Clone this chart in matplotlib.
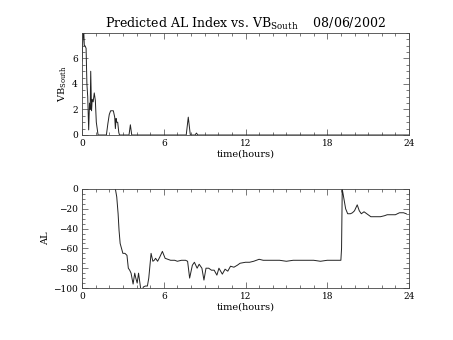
import matplotlib
matplotlib.use("Agg")
import matplotlib.pyplot as plt
from matplotlib.ticker import MultipleLocator

# VB south (top panel)
vb_t = [0.0, 0.05, 0.12, 0.17, 0.22, 0.3, 0.36, 0.42, 0.49, 0.55, 0.6, 0.64, 0.7, 0.75,
        0.82, 0.9, 0.98, 1.05, 1.18, 1.25, 1.79, 1.9, 2.0, 2.1, 2.3, 2.4, 2.45, 2.5,
        2.55, 2.62, 2.7, 2.75, 3.45, 3.55, 3.65, 7.65, 7.8, 7.95, 8.3, 8.4, 8.5, 24.0]
vb_v = [5.8, 7.2, 8.4, 7.0, 7.0, 6.8, 4.0, 3.0, 0.4, 2.5, 2.0, 5.0, 1.9, 2.8,
        2.6, 3.3, 2.7, 1.0, 0.0, 0.0, 0.0, 0.9, 1.6, 1.9, 1.9, 1.4, 0.5, 1.3,
        1.0, 1.0, 0.2, 0.0, 0.0, 0.8, 0.0, 0.0, 1.4, 0.0, 0.0, 0.15, 0.0, 0.0]

# AL index (bottom panel)
al_t = [2.45, 2.55, 2.65, 2.72, 2.8, 2.9, 3.0, 3.15, 3.3, 3.4, 3.5, 3.6, 3.75, 3.87,
        3.95, 4.05, 4.15, 4.3, 4.4, 4.5, 4.65, 4.8, 4.9, 5.07, 5.2, 5.3, 5.4, 5.55,
        5.7, 5.9, 6.1, 6.3, 6.5, 6.8, 7.0, 7.3, 7.6, 7.75, 7.9, 8.1, 8.25, 8.45, 8.6,
        8.8, 8.95, 9.1, 9.3, 9.5, 9.7, 9.9, 10.05, 10.3, 10.5, 10.7, 10.9, 11.15,
        11.4, 11.6, 12.0, 12.3, 12.6, 13.0, 13.3, 13.6, 14.0, 14.5, 15.0, 15.5,
        16.0, 16.5, 17.0, 17.5, 18.0, 18.5, 19.0, 19.05, 19.1, 19.2, 19.35, 19.5,
        19.7, 19.85, 20.0, 20.2, 20.35, 20.5, 20.7, 20.9, 21.2, 21.5, 21.9, 22.2,
        22.4, 22.8, 23.0, 23.3, 23.6, 23.8]
al_v = [0, -8, -25, -42, -55, -60, -65, -65, -67, -80, -82, -85, -96, -85,
        -90, -95, -85, -100, -105, -99, -98, -98, -90, -65, -73, -72, -70, -73,
        -69, -63, -70, -71, -72, -72, -73, -72, -72, -73, -90, -77, -74, -80, -76,
        -80, -92, -80, -80, -82, -82, -87, -80, -86, -81, -83, -78, -79,
        -77, -75, -74, -74, -73, -71, -72, -72, -72, -72, -73, -72,
        -72, -72, -72, -73, -72, -72, -72, -60, 0, -8, -20, -25,
        -25, -24, -22, -16, -22, -25, -23, -25, -28, -28, -28, -27,
        -26, -26, -26, -24, -24, -25]

title = "Predicted AL Index vs. VB$_{\\mathrm{South}}$    08/06/2002"
xticks = [0, 6, 12, 18, 24]

plt.rcParams['font.family'] = ['DejaVu Serif']
plt.rcParams['mathtext.fontset'] = 'dejavuserif'

fig = plt.figure(figsize=(4.53, 3.4), dpi=100)
ax1 = fig.add_axes([82/453, 1-135/340, 327/453, 102/340])
ax2 = fig.add_axes([82/453, 1-288/340, 327/453, 99/340])

ax1.plot(vb_t, vb_v, color='#222222', lw=0.7)
ax1.set_ylim(0, 8)
ax1.set_yticks([0, 2, 4, 6])
ax1.yaxis.set_minor_locator(MultipleLocator(0.5))
ax1.set_ylabel("VB$_{\\mathrm{South}}$", fontsize=7, labelpad=2)
ax1.set_title(title, fontsize=9, pad=4)

ax2.plot(al_t, al_v, color='#222222', lw=0.7)
ax2.set_ylim(-100, 0)
ax2.set_yticks([-100, -80, -60, -40, -20, 0])
ax2.yaxis.set_minor_locator(MultipleLocator(5))
ax2.set_ylabel("AL", fontsize=7, labelpad=2)

for ax in (ax1, ax2):
    ax.set_xlim(0, 24)
    ax.set_xticks(xticks)
    ax.xaxis.set_minor_locator(MultipleLocator(1))
    ax.set_xlabel("time(hours)", fontsize=7, labelpad=1)
    ax.tick_params(which='both', direction='in', top=True, right=True,
                   labelsize=6.5, width=0.5, color='#444444')
    ax.tick_params(which='major', length=4, pad=3)
    ax.tick_params(which='minor', length=2)
    for s in ax.spines.values():
        s.set_linewidth(0.6)
        s.set_color('#444444')

fig.savefig("out.png", dpi=100)
